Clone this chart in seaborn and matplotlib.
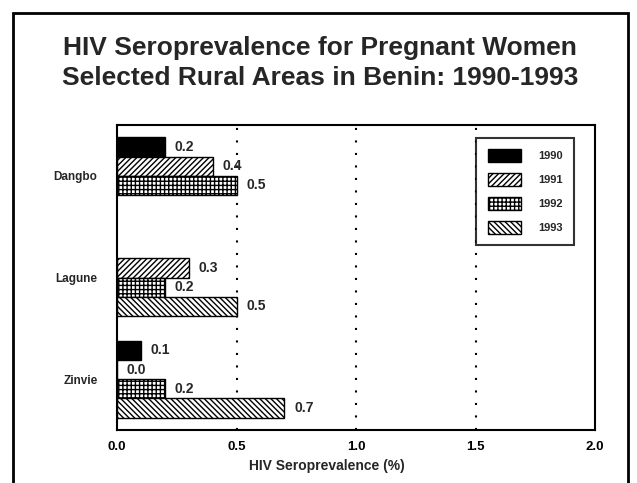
import numpy as np
import pandas as pd
import matplotlib
matplotlib.use("Agg")
import matplotlib.pyplot as plt
import seaborn as sns
from matplotlib.patches import Patch, Rectangle

# -------------------------------
# Data
# -------------------------------
areas = ["Dangbo", "Lagune", "Zinvie"]
years = ["1990", "1991", "1992", "1993"]
prev_1990 = [0.2, np.nan, 0.1]
prev_1991 = [0.4, 0.3, 0.0]
prev_1992 = [0.5, 0.2, 0.2]
prev_1993 = [np.nan, 0.5, 0.7]

hatches = ["", "//////", "++++", "\\\\\\\\\\\\"]
fills = ["black", "white", "white", "white"]

rows = []
for yr, vals in zip(years, [prev_1990, prev_1991, prev_1992, prev_1993]):
    for area, v in zip(areas, vals):
        rows.append({"Area": area, "Year": yr, "Prev": v})
df = pd.DataFrame(rows)

# -------------------------------
# Style
# -------------------------------
sns.set_style("white")
plt.rcParams["font.family"] = ["Liberation Sans", "DejaVu Sans"]
plt.rcParams["font.weight"] = "bold"
plt.rcParams["hatch.linewidth"] = 1.0
plt.rcParams["hatch.color"] = "black"

fig = plt.figure(figsize=(6.37, 4.83), dpi=100)
ax = fig.add_axes([117 / 637, 1 - 430 / 483, (595 - 117) / 637, (430 - 125) / 483])

sns.barplot(data=df, y="Area", x="Prev", hue="Year", order=areas,
            hue_order=years, orient="h", errorbar=None, width=0.76,
            gap=0, legend=False, ax=ax)

for cont, h, fc in zip(ax.containers, hatches, fills):
    for bar in cont:
        bar.set_facecolor(fc)
        bar.set_edgecolor("black")
        bar.set_linewidth(1.0)
        bar.set_hatch(h)
    ax.bar_label(cont, fmt="%.1f", padding=7, fontsize=10, fontweight="bold")

# dotted reference lines
for xv in [0.5, 1.0, 1.5]:
    ax.axvline(xv, color="black", linestyle=(0, (1, 5)), linewidth=1.5, zorder=0)

ax.set_xlim(0, 2.0)
ax.set_ylim(2.5, -0.5)
ax.set_xticks([0.0, 0.5, 1.0, 1.5, 2.0])
ax.set_xticklabels(["0.0", "0.5", "1.0", "1.5", "2.0"], fontsize=9.5, fontweight="bold")
ax.tick_params(axis="x", direction="in", length=4, width=1, pad=8, colors="black")
ax.tick_params(axis="y", length=0, pad=14)
for lbl in ax.get_yticklabels():
    lbl.set_fontsize(8.5)
    lbl.set_fontweight("bold")
ax.set_ylabel("")
ax.set_xlabel("HIV Seroprevalence (%)", fontsize=10, fontweight="bold")
ax.xaxis.set_label_coords(0.44, -0.095)
for sp in ax.spines.values():
    sp.set_visible(True)
    sp.set_color("black")
    sp.set_linewidth(1.5)

# legend
handles = [Patch(facecolor=fc, edgecolor="black", hatch=h, label=yr)
           for fc, h, yr in zip(fills, hatches, years)]
leg = ax.legend(handles=handles, loc="upper right", bbox_to_anchor=(0.957, 0.958),
                fontsize=8, frameon=True, fancybox=False, handlelength=3.0,
                handleheight=1.4, labelspacing=1.0, borderpad=1.0, handletextpad=1.6,
                borderaxespad=0)
leg.get_frame().set_edgecolor("black")
leg.get_frame().set_linewidth(1.5)
for t in leg.get_texts():
    t.set_fontweight("bold")

# title and outer border
fig.text(0.502, 1 - 63 / 483,
         "HIV Seroprevalence for Pregnant Women\nSelected Rural Areas in Benin: 1990-1993",
         ha="center", va="center", fontsize=19, fontweight="bold", linespacing=1.35)
fig.patches.append(Rectangle((13 / 637, -0.01), (628 - 13) / 637, 1 - 13 / 483 + 0.01,
                             transform=fig.transFigure, fill=False,
                             edgecolor="black", linewidth=2))

fig.savefig("out.png", dpi=100)
